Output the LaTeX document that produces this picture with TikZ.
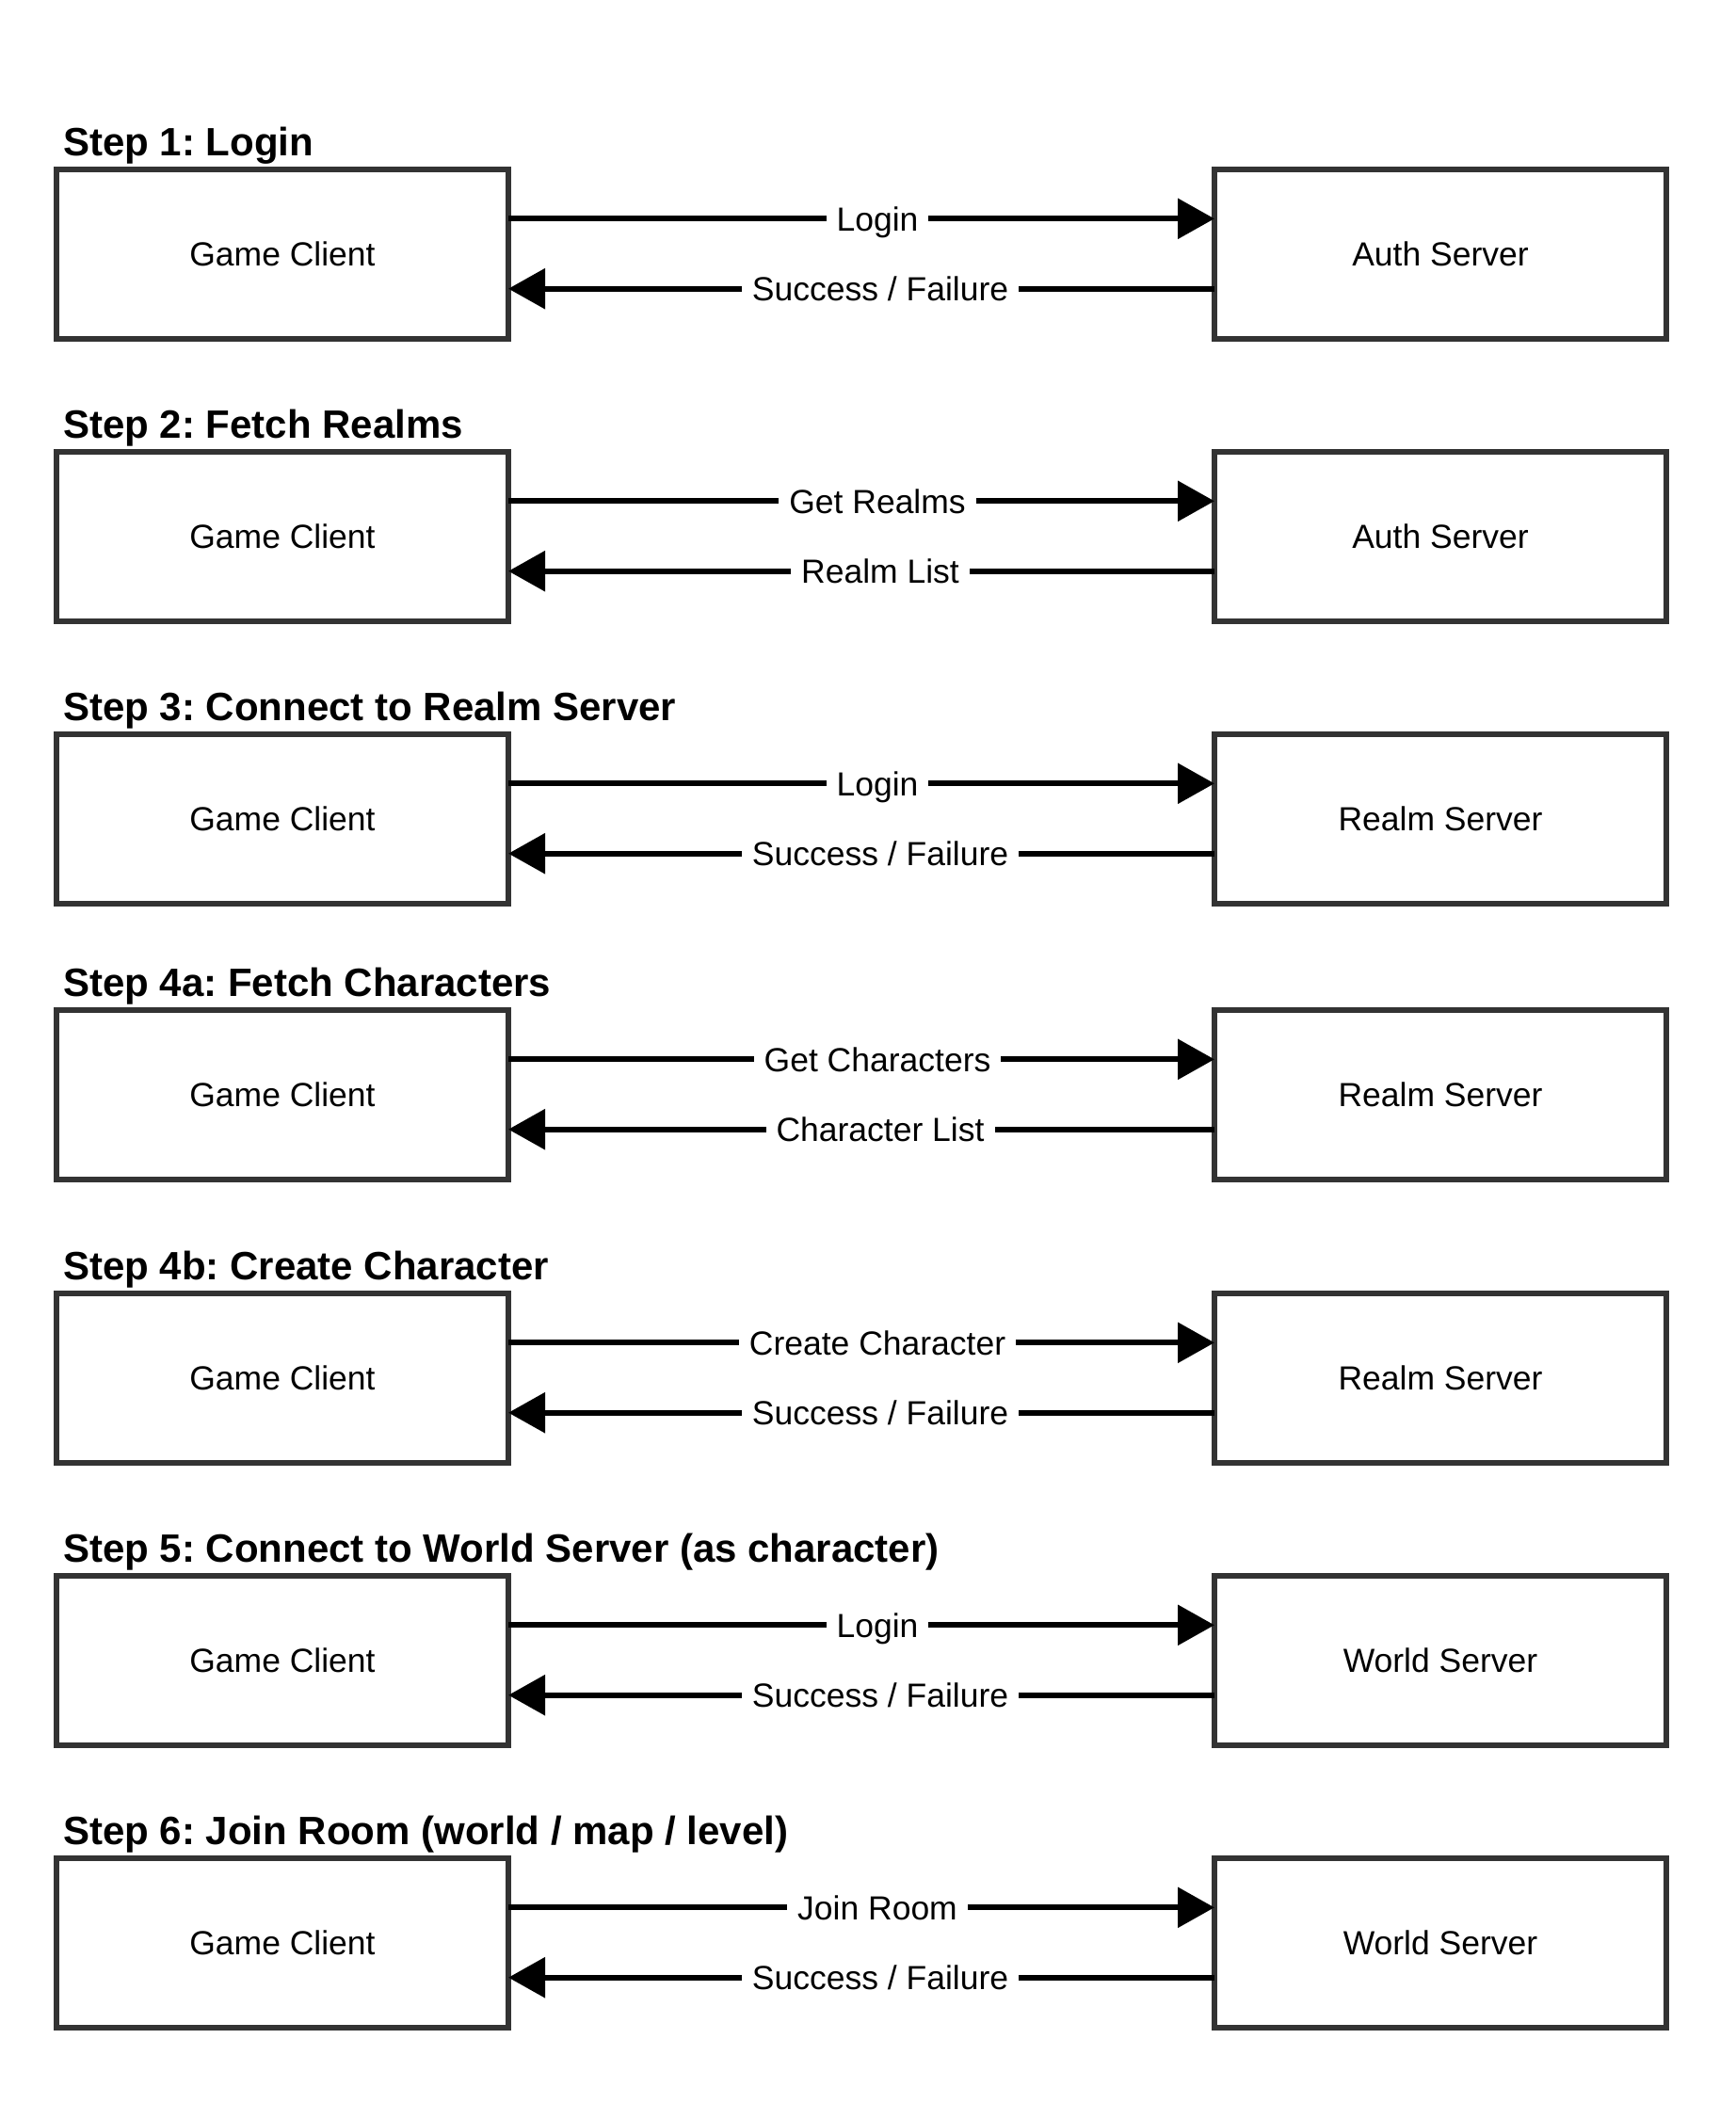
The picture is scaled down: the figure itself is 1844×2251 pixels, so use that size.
\documentclass[tikz,border=0pt]{standalone}
\usepackage{fontspec}
\setmainfont{Liberation Sans}
\usetikzlibrary{arrows.meta}
\definecolor{boxgray}{HTML}{333333}
\frenchspacing
\newcommand\mytitlefnt{\fontsize{42}{48}\selectfont\bfseries}
\tikzset{
  box/.style={draw=boxgray, line width=5.3pt, minimum width=480pt, minimum height=180pt,
    inner sep=0pt, outer sep=0pt, fill=white, font=\fontsize{35.5}{40}\selectfont},
  steptitle/.style={anchor=base west, inner sep=0pt, font=\mytitlefnt},
  msg/.style={line width=6pt, -{Triangle[length=39pt, width=42pt]}},
  msglabel/.style={fill=white, inner xsep=11pt, inner ysep=2pt, text height=25.4pt, text depth=0pt,
    font=\fontsize{35.5}{40}\selectfont}
}
\begin{document}
\begin{tikzpicture}[x=1pt,y=-1pt]
\useasboundingbox[fill=white] (0,0) rectangle (1844,2251);
\foreach \i/\t/\ttl/\srv/\up/\dn in {
  1/180/{Step 1: Login}/{Auth Server}/{Login}/{Success / Failure},
  2/480/{Step 2: Fetch Realms}/{Auth Server}/{Get Realms}/{Realm List},
  3/780/{Step 3: Connect to Realm Server}/{Realm Server}/{Login}/{Success / Failure},
  4/1073/{Step 4a: Fetch Characters}/{Realm Server}/{Get Characters}/{Character List},
  5/1374/{Step 4b: Create Character}/{Realm Server}/{Create Character}/{Success / Failure},
  6/1674/{Step 5: Connect to World Server (as character)}/{World Server}/{Login}/{Success / Failure},
  7/1974/{Step 6: Join Room (world / map / level)}/{World Server}/{Join Room}/{Success / Failure}} {
  \node[steptitle] (t\i) at (67,\t-15) {\ttl};
  \node[box] (c\i) at (300,\t+90) {Game Client};
  \node[box] (s\i) at (1530,\t+90) {\srv};
  \draw[msg] ([yshift=-52.3pt]c\i.north east) -- node[msglabel, pos=0.5227] (u\i) {\up} ([yshift=-52.3pt]s\i.north west);
  \draw[msg] ([yshift=-126.7pt]s\i.north west) -- node[msglabel, pos=0.4733] (d\i) {\dn} ([yshift=-126.7pt]c\i.north east);
}
\end{tikzpicture}
\end{document}
